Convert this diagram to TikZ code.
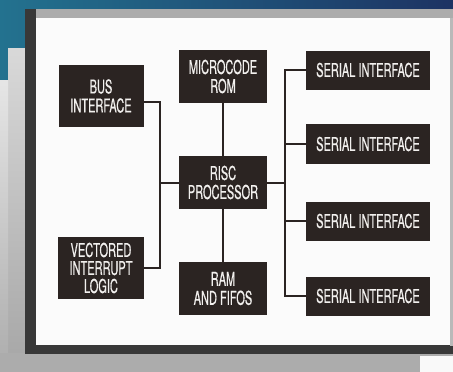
\documentclass[tikz,border=0pt]{standalone}
\usepackage{fontspec}
\setmainfont{TeX Gyre Heros}[FakeStretch=0.58,FakeBold=0.5]
\usepackage{tikz}

\definecolor{boxfill}{HTML}{2B2422}
\definecolor{boxtext}{HTML}{F2F0EE}
\definecolor{bluel}{HTML}{23728F}
\definecolor{blued}{HTML}{1D3363}

\begin{document}
\begin{tikzpicture}[x=1pt,y=-1pt,
    blk/.style={fill=boxfill,text=boxtext,align=center,inner sep=0pt,
      font=\fontsize{19}{19}\selectfont},
    wire/.style={line width=2pt,draw=boxfill}]
  \useasboundingbox (0,0) rectangle (453,372);
  % backdrop
  \fill[gray!35] (0,0) rectangle (453,372);
  \shade[left color=bluel,right color=blued] (0,0) -- (453,0) -- (453,10) -- (25,10) -- (25,48) -- (8,48) -- (8,80) -- (0,80) -- cycle;
  \shade[top color=gray!30,bottom color=gray!70] (8,48) rectangle (25,372);
  \shade[top color=gray!20,bottom color=gray!65] (0,80) rectangle (8,372);
  \fill[gray!65] (0,353) rectangle (453,372);
  \fill[white!95!gray] (420,356) rectangle (453,372);
  % frame
  \fill[black!78] (25,9) rectangle (453,354);
  \fill[gray!65] (36,9) rectangle (453,18);
  \fill[gray!55] (450,18) rectangle (453,346);
  \fill[white!97!gray] (36,18) rectangle (450,345);

  \node[blk,minimum width=85pt,minimum height=62pt] (bus) at (101,96) {BUS\\INTERFACE};
  \node[blk,minimum width=86pt,minimum height=62pt,font=\fontsize{19}{18}\selectfont] (vil) at (101,268) {VECTORED\\INTERRUPT\\LOGIC};
  \node[blk,minimum width=88pt,minimum height=53pt] (rom) at (223,76.5) {MICROCODE\\ROM};
  \node[blk,minimum width=88pt,minimum height=53pt] (risc) at (223,182.5) {RISC\\PROCESSOR};
  \node[blk,minimum width=88pt,minimum height=53pt] (ram) at (223,288.5) {RAM\\AND FIFOS};
  \node[blk,minimum width=124pt,minimum height=39pt] (ser1) at (368,70) {SERIAL INTERFACE};
  \node[blk,minimum width=124pt,minimum height=40pt] (ser2) at (368,144) {SERIAL INTERFACE};
  \node[blk,minimum width=124pt,minimum height=39pt] (ser3) at (368,221) {SERIAL INTERFACE};
  \node[blk,minimum width=124pt,minimum height=39pt] (ser4) at (368,296) {SERIAL INTERFACE};

  \coordinate (lbus) at (160,182.5);
  \coordinate (rbus) at (285,182.5);
  \draw[wire] ([yshift=-6pt]bus.east) -| (lbus) |- (vil.east);
  \draw[wire] (lbus) -- (risc.west);
  \draw[wire] (rom) -- (risc) -- (ram);
  \draw[wire] (risc.east) -- (rbus);
  \draw[wire] (ser1.west) -| (rbus) |- (ser4.west);
  \draw[wire] (ser2.west) -| (rbus);
  \draw[wire] (ser3.west) -| (rbus);
\end{tikzpicture}
\end{document}
